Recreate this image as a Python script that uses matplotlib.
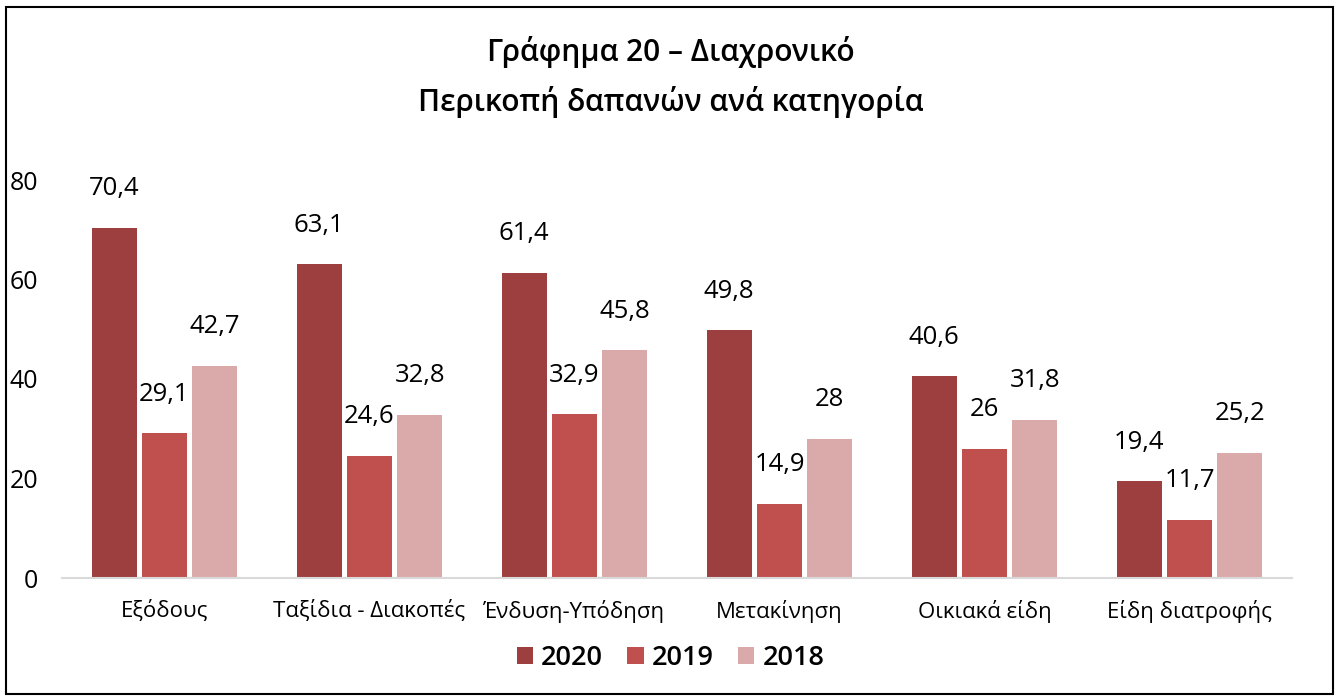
import numpy as np
import matplotlib.pyplot as plt
from matplotlib.patches import Rectangle

# Δεδομένα
kathgories = ['Εξόδους', 'Ταξίδια - Διακοπές', 'Ένδυση-Υπόδηση',
              'Μετακίνηση', 'Οικιακά είδη', 'Είδη διατροφής']
etos_2020 = [70.4, 63.1, 61.4, 49.8, 40.6, 19.4]
etos_2019 = [29.1, 24.6, 32.9, 14.9, 26, 11.7]
etos_2018 = [42.7, 32.8, 45.8, 28, 31.8, 25.2]
seires = [('2020', etos_2020, '#9E3F3F'),
          ('2019', etos_2019, '#C0504D'),
          ('2018', etos_2018, '#DAA9A9')]

plt.rcParams['font.family'] = ['Open Sans', 'DejaVu Sans']

fig = plt.figure(figsize=(13.41, 6.96), dpi=100)
ax = fig.add_axes([62 / 1341, 118 / 696, 1230 / 1341, 398 / 696])

x = np.arange(len(kathgories))
platos = 0.22
apostash = 0.245

for i, (onoma, times, xroma) in enumerate(seires):
    pos = x + (i - 1) * apostash
    bars = ax.bar(pos, times, width=platos, color=xroma, label=onoma)
    for b, v in zip(bars, times):
        etiketa = str(v).replace('.', ',')
        ax.annotate(etiketa, (b.get_x() + b.get_width() / 2, v),
                    xytext=(0, 28), textcoords='offset points',
                    ha='center', va='center', fontsize=18.5)

ax.set_xlim(-0.5, 5.5)
ax.set_ylim(0, 80)
ax.set_yticks([0, 20, 40, 60, 80])
ax.set_xticks(x)
ax.set_xticklabels(kathgories, fontsize=16)
ax.tick_params(axis='x', length=0, pad=16)
ax.tick_params(axis='y', length=0, pad=17, labelsize=18)
for s in ['top', 'right', 'left']:
    ax.spines[s].set_visible(False)
ax.spines['bottom'].set_color('#D9D9D9')
ax.spines['bottom'].set_linewidth(1.5)

fig.text(0.5, 1 - 52 / 696, 'Γράφημα 20 – Διαχρονικό', ha='center', va='center',
         fontsize=21.5, fontweight='semibold')
fig.text(0.5, 1 - 102 / 696, 'Περικοπή δαπανών ανά κατηγορία', ha='center', va='center',
         fontsize=21.5, fontweight='semibold')

leg = fig.legend(loc='center', bbox_to_anchor=(0.5, 1 - 658 / 696), ncol=3,
                 frameon=False, handlelength=0.6, handleheight=0.6,
                 handletextpad=0.3, columnspacing=0.9,
                 prop={'size': 19.5, 'weight': 'semibold'})

# Πλαίσιο γύρω από το γράφημα
fig.patches.append(Rectangle((6 / 1341, 2 / 696), 1327 / 1341, 687 / 696,
                             transform=fig.transFigure, fill=False,
                             edgecolor='black', linewidth=1.5))

fig.savefig('out.png', dpi=100)
